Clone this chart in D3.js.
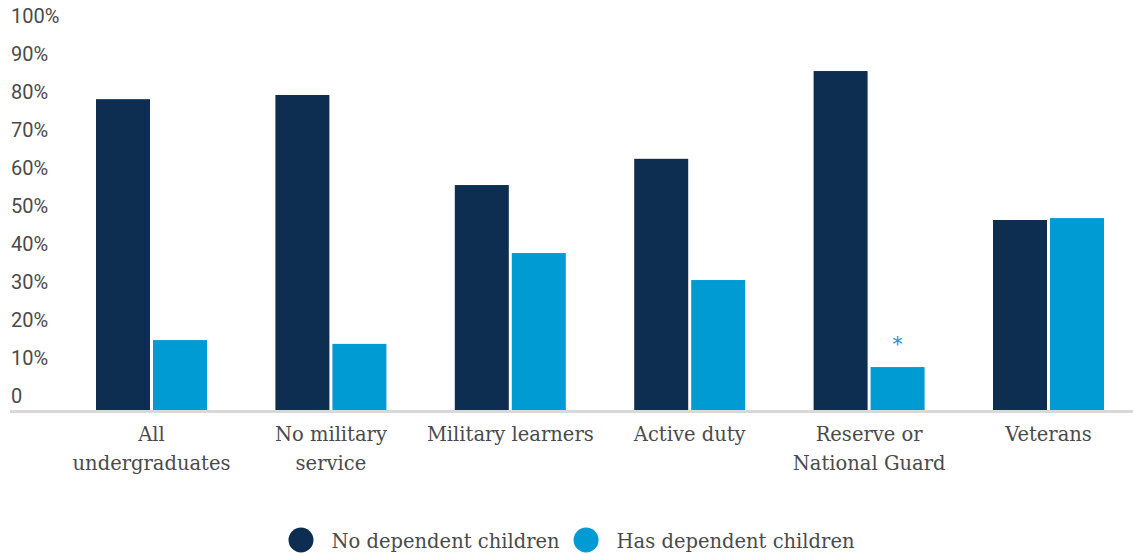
<!DOCTYPE html>
<html>
<head>
<meta charset="utf-8">
<script src="https://cdn.jsdelivr.net/npm/d3@7"></script>
<style>
  html, body { margin: 0; padding: 0; background: #fff; }
  svg { display: block; }
</style>
</head>
<body>
<svg id="chart" width="1133" height="554"></svg>
<script>
// ---- data ----
const categories = ["All undergraduates", "No military service", "Military learners", "Active duty", "Reserve or National Guard", "Veterans"];
const categoryLabelLines = [["All", "undergraduates"], ["No military", "service"], ["Military learners"], ["Active duty"], ["Reserve or", "National Guard"], ["Veterans"]];
const seriesNames = ["No dependent children", "Has dependent children"];
const noDependentChildren = [81.8, 82.9, 59.2, 66.1, 89.2, 50.0];
const hasDependentChildren = [18.4, 17.4, 41.3, 34.2, 11.3, 50.5];
const hasDependentNotes = ["", "", "", "", "*", ""];
const yTicks = [0, 10, 20, 30, 40, 50, 60, 70, 80, 90, 100];
const yTickLabels = ["0", "10%", "20%", "30%", "40%", "50%", "60%", "70%", "80%", "90%", "100%"];

// ---- styles ----
const colors = ["#0d2e50", "#009bd2"];
const textColor = "#4a4a4a";
const serifFont = "'DejaVu Serif', serif";
const sansFont = "Roboto, 'Liberation Sans', sans-serif";

const svg = d3.select("#chart");

const x = d3.scaleBand().domain(categories).range([96, 1104]).paddingInner(0.3813).paddingOuter(0);
const xInner = d3.scaleBand().domain(seriesNames).range([0, x.bandwidth()]).paddingInner(0.0526);
const y = d3.scaleLinear().domain([0, 100]).range([410, 30]);

const rows = categories.map((c, i) => ({
  category: c,
  values: [
    { series: seriesNames[0], value: noDependentChildren[i], note: "" },
    { series: seriesNames[1], value: hasDependentChildren[i], note: hasDependentNotes[i] }
  ]
}));

// y axis labels (drawn above their value line)
const yAxis = d3.axisLeft(y).tickValues(yTicks).tickFormat((d, i) => yTickLabels[i]).tickSize(0);
const yg = svg.append("g").call(yAxis);
yg.select(".domain").remove();
yg.selectAll("text")
  .attr("x", 11)
  .attr("dy", "-8px")
  .attr("y", 0)
  .attr("text-anchor", "start")
  .attr("fill", textColor)
  .style("font-family", sansFont)
  .style("font-size", "20px");

// bars
const groups = svg.append("g").selectAll("g.grp")
  .data(rows).join("g")
  .attr("class", "grp")
  .attr("transform", d => `translate(${x(d.category)},0)`);

groups.selectAll("rect")
  .data(d => d.values).join("rect")
  .attr("x", d => xInner(d.series))
  .attr("y", d => y(d.value))
  .attr("width", xInner.bandwidth())
  .attr("height", d => y(0) - y(d.value))
  .attr("fill", (d, i) => colors[i]);

groups.selectAll("text.note")
  .data(d => d.values.filter(v => v.note)).join("text")
  .attr("class", "note")
  .attr("x", d => xInner(d.series) + xInner.bandwidth() / 2)
  .attr("y", d => y(d.value) - 16)
  .attr("text-anchor", "middle")
  .attr("fill", colors[1])
  .style("font-family", serifFont)
  .style("font-size", "20px")
  .text(d => d.note);

// baseline
svg.append("line")
  .attr("x1", 10).attr("x2", 1133)
  .attr("y1", y(0) + 1.5).attr("y2", y(0) + 1.5)
  .attr("stroke", "#d9d9d9").attr("stroke-width", 3);

// x axis labels
const xAxis = d3.axisBottom(x).tickSize(0).tickFormat("");
const xg = svg.append("g").attr("transform", `translate(0,${y(0)})`).call(xAxis);
xg.select(".domain").remove();
xg.selectAll(".tick").each(function(d) {
  const i = categories.indexOf(d);
  const t = d3.select(this).append("text")
    .attr("text-anchor", "middle")
    .attr("fill", textColor)
    .style("font-family", serifFont)
    .style("font-size", "19.5px");
  categoryLabelLines[i].forEach((line, j) => {
    t.append("tspan").attr("x", 0).attr("y", 31 + j * 29).text(line);
  });
});

// legend
const legend = svg.append("g");
const items = legend.selectAll("g").data(seriesNames).join("g");
items.append("circle").attr("r", 12.5).attr("cx", 12.5).attr("cy", 540).attr("fill", (d, i) => colors[i]);
items.append("text")
  .attr("x", 43).attr("y", 548)
  .attr("fill", textColor)
  .style("font-family", serifFont)
  .style("font-size", "19.5px")
  .text(d => d);
let widths = [];
items.each(function() { widths.push(43 + d3.select(this).select("text").node().getComputedTextLength()); });
const gap = 14;
const total = widths[0] + gap + widths[1];
let start = 571.5 - total / 2;
items.attr("transform", (d, i) => `translate(${i === 0 ? start : start + widths[0] + gap},0)`);
</script>
</body>
</html>
